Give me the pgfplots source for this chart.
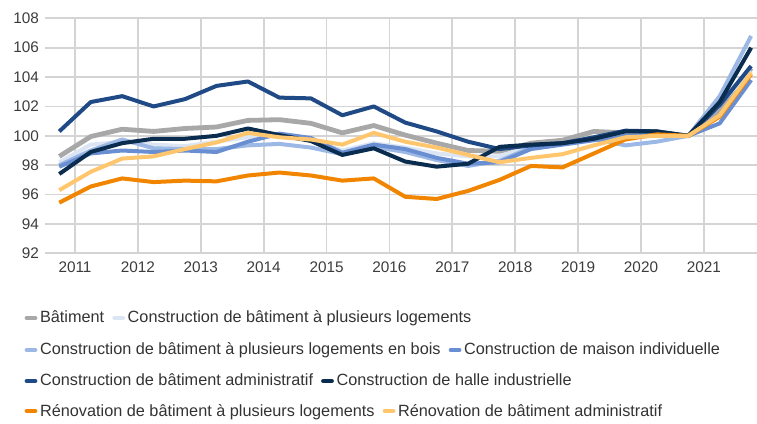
\documentclass[border=0pt]{standalone}
\usepackage{pgfplots}
\pgfplotsset{compat=1.18}
\usepackage{pgfplotstable}
\usepackage{fontspec}
\setmainfont{Liberation Sans}
\definecolor{cgrey}{HTML}{A8A8A8}
\definecolor{cpale}{HTML}{DCE5F4}
\definecolor{cbois}{HTML}{9CB8E4}
\definecolor{cmaison}{HTML}{6A8ED2}
\definecolor{cadmin}{HTML}{1F4A86}
\definecolor{challe}{HTML}{0A2C4E}
\definecolor{corange}{HTML}{F28500}
\definecolor{cyellow}{HTML}{FFC66E}
\definecolor{gridc}{HTML}{D4D4D4}
\definecolor{tickc}{HTML}{3C3C3C}
\definecolor{textc}{HTML}{333333}

\pgfplotstableread{
x grey pale bois maison admin halle orange yellow
2010.75  98.6   98.2   98.0   97.9   100.3  97.4   95.45  96.3
2011.25  99.95  99.4   99.0   98.8   102.3  98.9   96.55  97.55
2011.75  100.45 99.6   99.75  99.0   102.7  99.5   97.1   98.45
2012.25  100.3  99.4   99.15  98.9   102.0  99.8   96.85  98.6
2012.75  100.5  99.3   99.1   99.0   102.5  99.8   96.95  99.1
2013.25  100.6  99.6   99.1   98.9   103.4  100.0  96.9   99.55
2013.75  101.05 99.9   99.35  99.6   103.7  100.5  97.3   100.2
2014.25  101.1  100.0  99.45  100.15 102.6  100.05 97.5   99.9
2014.75  100.85 99.7   99.2   99.85  102.55 99.65  97.3   99.75
2015.25  100.2  99.0   98.75  98.85  101.4  98.7   96.95  99.4
2015.75  100.7  99.5   99.25  99.4   102.0  99.15  97.1   100.2
2016.25  100.05 99.2   98.9   99.1   100.9  98.25  95.85  99.6
2016.75  99.5   98.8   98.35  98.5   100.3  97.9   95.7   99.2
2017.25  99.0   98.6   97.95  98.1   99.6   98.1   96.25  98.7
2017.75  98.95  98.6   98.3   98.2   99.1   99.25  97.0   98.2
2018.25  99.5   99.3   99.2   99.1   99.35  99.4   97.95  98.5
2018.75  99.7   99.5   99.5   99.4   99.5   99.5   97.85  98.75
2019.25  100.3  99.8   99.8   99.7   99.9   99.8   98.8   99.35
2019.75  100.2  100.0  99.35  100.0  100.35 100.3  99.75  99.9
2020.25  100.1  100.0  99.6   100.1  100.3  100.3  100.1  100.0
2020.75  100.0  100.0  100.0  100.0  100.0  100.0  100.0  100.0
2021.25  101.65 102.2  102.7  100.85 102.1  102.3  101.3  101.4
2021.75  104.6  104.4  106.8  103.8  104.75 106.0  104.2  104.3
}\data

\begin{document}
\begin{tikzpicture}
\pgfplotsset{
  base/.style={width=534pt, height=176.25pt, scale only axis, at={(0,0)}, anchor=south west,
    xmin=2010.523, xmax=2021.843, ymin=92, ymax=108},
  leg/.style={base, hide axis, legend columns=2, legend cell align=left,
    legend style={draw=none, fill=none, inner sep=0pt, anchor=west,
      font=\fontsize{12.2}{14}\selectfont, text=textc,
      /tikz/every odd column/.append style={column sep=0pt},
      /tikz/every even column/.append style={column sep=4pt}},
    legend image code/.code={\draw[##1, line width=3.6pt, line cap=round] (0pt,0pt) -- (6pt,0pt);}}
}
\begin{axis}[base,
  axis line style={draw=none},
  grid=major, grid style={gridc, line width=1.3pt},
  xtick={2011,...,2021}, ytick={92,94,...,108},
  major tick length=0pt, tick style={draw=none},
  ticklabel style={font=\fontsize{11.5}{13}\selectfont, text=tickc},
  /pgf/number format/assume math mode=true,
  xticklabel style={/pgf/number format/1000 sep={}, yshift=-3pt},
  yticklabel style={xshift=-1pt},
  every axis plot/.append style={line width=3pt, line join=round, no markers},
]
\addplot[cgrey, line width=3.6pt] table[x=x, y=grey] {\data};
\addplot[cpale] table[x=x, y=pale] {\data};
\addplot[cbois] table[x=x, y=bois] {\data};
\addplot[cmaison] table[x=x, y=maison] {\data};
\addplot[cadmin] table[x=x, y=admin] {\data};
\addplot[challe] table[x=x, y=halle] {\data};
\addplot[corange] table[x=x, y=orange] {\data};
\addplot[cyellow] table[x=x, y=yellow] {\data};
\end{axis}

\begin{axis}[leg, legend style={at={(-0.029,-0.275)}}]
\addlegendimage{cgrey}\addlegendentry{Bâtiment}
\addlegendimage{cpale}\addlegendentry{Construction de bâtiment à plusieurs logements}
\end{axis}
\begin{axis}[leg, legend style={at={(-0.029,-0.411)}}]
\addlegendimage{cbois}\addlegendentry{Construction de bâtiment à plusieurs logements en bois}
\addlegendimage{cmaison}\addlegendentry{Construction de maison individuelle}
\end{axis}
\begin{axis}[leg, legend style={at={(-0.029,-0.543)}}]
\addlegendimage{cadmin}\addlegendentry{Construction de bâtiment administratif}
\addlegendimage{challe}\addlegendentry{Construction de halle industrielle}
\end{axis}
\begin{axis}[leg, legend style={at={(-0.029,-0.671)}}]
\addlegendimage{corange}\addlegendentry{Rénovation de bâtiment à plusieurs logements}
\addlegendimage{cyellow}\addlegendentry{Rénovation de bâtiment administratif}
\end{axis}

\pgfresetboundingbox
\path (-33.75pt,-127.3pt) rectangle (534pt,190pt);
\end{tikzpicture}
\end{document}
